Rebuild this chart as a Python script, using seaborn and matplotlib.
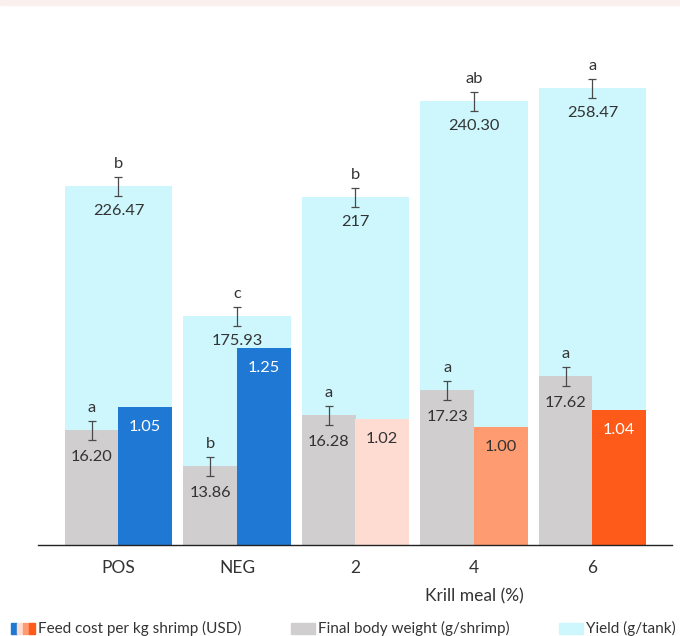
import numpy as np
import pandas as pd
import matplotlib
matplotlib.use("Agg")
import matplotlib.pyplot as plt
from matplotlib.patches import Rectangle
import seaborn as sns

# categories
groups = ["POS", "NEG", "2", "4", "6"]

# bar heights as drawn in the infographic (px above the baseline;
# the drawing is not to the scale of the printed values)
yield_h = [359, 229, 348, 444, 457]
weight_h = [115, 79, 130, 155, 169]
cost_h = [138, 197, 126, 118, 135]

# printed values
yield_lbl = ["226.47", "175.93", "217", "240.30", "258.47"]
weight_lbl = ["16.20", "13.86", "16.28", "17.23", "17.62"]
cost_lbl = ["1.05", "1.25", "1.02", "1.00", "1.04"]

# significance letters
yield_sig = ["b", "c", "b", "ab", "a"]
weight_sig = ["a", "b", "a", "a", "a"]

err_half = 9.5

cyan = "#cdf7fd"
grey = "#d0cecf"
cost_colors = ["#1f78d4", "#1f78d4", "#fedcd2", "#fe9b71", "#fe5a1a"]
cost_txt = ["white", "white", "#333333", "#333333", "white"]
txt = "#333333"

sns.set_theme(style="white")
plt.rcParams["font.family"] = ["Lato", "DejaVu Sans"]

W, H = 680, 636
fig = plt.figure(figsize=(W / 100, H / 100), dpi=100)
fig.patches.append(Rectangle((0, 1 - 5 / H), 1, 5 / H, transform=fig.transFigure,
                             color="#fcf0ee", zorder=0))

ax = fig.add_axes([38 / W, 91 / H, 634 / W, 525 / H])

width = 0.903
df_y = pd.DataFrame({"group": groups, "h": yield_h})
sns.barplot(data=df_y, x="group", y="h", color=cyan, width=width, saturation=1,
            linewidth=0, errorbar=None, ax=ax)

long = pd.DataFrame({"group": groups * 2,
                     "metric": ["weight"] * 5 + ["cost"] * 5,
                     "h": weight_h + cost_h})
sns.barplot(data=long, x="group", y="h", hue="metric", hue_order=["weight", "cost"],
            palette=[grey, cost_colors[0]], width=width, dodge=True, saturation=1,
            linewidth=0, errorbar=None, legend=False, ax=ax)

# recolour feed-cost bars one by one
for p, c in zip(ax.patches[10:15], cost_colors):
    p.set_facecolor(c)

x = np.arange(len(groups))
off = width / 4
xw = x - off
xc = x + off

ax.errorbar(x, yield_h, yerr=err_half, fmt="none", ecolor="#4a4a4a",
            elinewidth=0.9, capsize=2.9, capthick=0.9, zorder=5)
ax.errorbar(xw, weight_h, yerr=err_half, fmt="none", ecolor="#4a4a4a",
            elinewidth=0.9, capsize=2.9, capthick=0.9, zorder=5)

fs = 11.8
for i in range(len(groups)):
    ax.text(x[i], yield_h[i] + 22, yield_sig[i], ha="center", va="center", fontsize=fs, color=txt)
    ax.text(x[i], yield_h[i] - 25, yield_lbl[i], ha="center", va="center", fontsize=fs, color=txt)
    ax.text(xw[i], weight_h[i] + 22, weight_sig[i], ha="center", va="center", fontsize=fs, color=txt)
    ax.text(xw[i], weight_h[i] - 27, weight_lbl[i], ha="center", va="center", fontsize=fs, color=txt)
    ax.text(xc[i], cost_h[i] - 20, cost_lbl[i], ha="center", va="center", fontsize=fs, color=cost_txt[i])

ax.set_ylim(0, 525)
ax.set_xlim(-(118.5 - 38) / 118.5, (672 - 118.5) / 118.5)
ax.set_xlabel("")
ax.set_ylabel("")
ax.set_yticks([])
for s in ["top", "right", "left"]:
    ax.spines[s].set_visible(False)
ax.spines["bottom"].set_color("#222222")
ax.spines["bottom"].set_linewidth(1)
ax.tick_params(axis="x", length=0, pad=11, labelsize=12.5, labelcolor=txt)

ax.text(3, -51, "Krill meal (%)", ha="center", va="center", fontsize=12.5, color=txt)

# legend
ly = 1 - 628 / H
sw_h = 11 / H
for k, c in enumerate(["#1f78d4", "#fedcd2", "#fe9b71", "#fe5a1a"]):
    fig.patches.append(Rectangle(((11 + 6 * k) / W, ly - sw_h / 2), 6 / W, sw_h,
                                 transform=fig.transFigure, color=c))
fig.text(38 / W, ly, "Feed cost per kg shrimp (USD)", ha="left", va="center", fontsize=11, color=txt)
fig.patches.append(Rectangle((291 / W, ly - sw_h / 2), 24 / W, sw_h, transform=fig.transFigure, color=grey))
fig.text(318 / W, ly, "Final body weight (g/shrimp)", ha="left", va="center", fontsize=11, color=txt)
fig.patches.append(Rectangle((559 / W, ly - sw_h / 2), 24 / W, sw_h, transform=fig.transFigure, color=cyan))
fig.text(586 / W, ly, "Yield (g/tank)", ha="left", va="center", fontsize=11, color=txt)

fig.savefig("out.png", dpi=100)
